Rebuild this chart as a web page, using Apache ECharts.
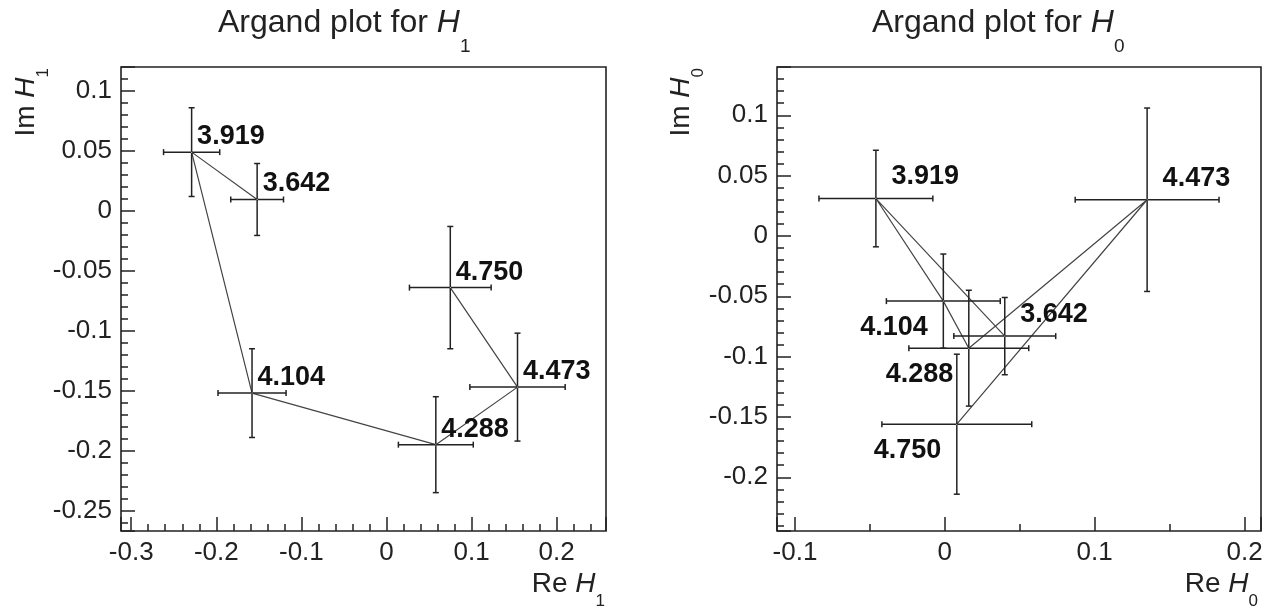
<!DOCTYPE html>
<html>
<head>
<meta charset="utf-8">
<script src="https://cdn.jsdelivr.net/npm/echarts@6.0.0/dist/echarts.min.js"></script>
<style>
html, body { margin: 0; padding: 0; background: #fff; }
#main { width: 1267px; height: 608px; }
</style>
</head>
<body>
<div id="main"></div>
<script>
// point labels (mass), in the order the points are joined
var masses = ['3.642', '3.919', '4.104', '4.288', '4.473', '4.750'];

// H1
var h1Re = [-0.152, -0.229, -0.158, 0.058, 0.154, 0.075];
var h1Im = [0.0095, 0.049, -0.152, -0.195, -0.147, -0.064];
var h1ReErr = [0.031, 0.033, 0.040, 0.044, 0.056, 0.048];
var h1ImErr = [0.030, 0.037, 0.037, 0.040, 0.045, 0.051];

// H0
var h0Re = [0.040, -0.046, -0.001, 0.016, 0.135, 0.008];
var h0Im = [-0.083, 0.031, -0.054, -0.093, 0.030, -0.156];
var h0ReErr = [0.034, 0.038, 0.038, 0.040, 0.048, 0.050];
var h0ImErr = [0.032, 0.040, 0.039, 0.048, 0.076, 0.058];

// labels drawn below-left of the point in the H0 plot
var h0LabelsBelow = ['4.104', '4.288', '4.750'];

var F = '"Liberation Sans", Arial, Helvetica, sans-serif';
var INK = '#222';

var chart = echarts.init(document.getElementById('main'));

function xyPairs(re, im) {
    return re.map(function (v, i) { return [v, im[i]]; });
}
function errRows(re, im, eRe, eIm) {
    return re.map(function (v, i) { return [v, im[i], eRe[i], eIm[i]]; });
}

function renderErr(params, api) {
    var x = api.value(0), y = api.value(1), ex = api.value(2), ey = api.value(3);
    var l = api.coord([x - ex, y]), r = api.coord([x + ex, y]);
    var t = api.coord([x, y + ey]), b = api.coord([x, y - ey]);
    var c = 3;
    var st = { stroke: INK, lineWidth: 1.5 };
    function seg(x1, y1, x2, y2) {
        return { type: 'line', shape: { x1: x1, y1: y1, x2: x2, y2: y2 }, style: st };
    }
    return {
        type: 'group',
        children: [
            seg(l[0], l[1], r[0], r[1]),
            seg(t[0], t[1], b[0], b[1]),
            seg(l[0], l[1] - c, l[0], l[1] + c),
            seg(r[0], r[1] - c, r[0], r[1] + c),
            seg(t[0] - c, t[1], t[0] + c, t[1]),
            seg(b[0] - c, b[1], b[0] + c, b[1])
        ]
    };
}

function axis(idx, min, max, split, minor) {
    return {
        type: 'value', gridIndex: idx, min: min, max: max, splitNumber: split,
        axisLine: { show: false, onZero: false },
        axisTick: { show: true, inside: true, length: 14, lineStyle: { color: INK, width: 1.5 } },
        minorTick: { show: true, splitNumber: minor, length: 7, lineStyle: { color: INK, width: 1.5 } },
        splitLine: { show: false },
        minorSplitLine: { show: false },
        axisLabel: {
            showMinLabel: false, showMaxLabel: false,
            fontFamily: F, fontSize: 26, color: INK, margin: 9
        }
    };
}

function labels(idx, re, im, below) {
    return {
        type: 'scatter', xAxisIndex: idx, yAxisIndex: idx, symbolSize: 1, silent: true, z: 5,
        itemStyle: { color: '#fff', opacity: 1 },
        label: {
            show: true, formatter: '{b}', fontFamily: F, fontWeight: 'bold',
            fontSize: 27, color: '#111', opacity: 1, textBorderWidth: 0, verticalAlign: 'middle'
        },
        data: masses.map(function (m, i) {
            var lab;
            if (!below) lab = { position: [6, -15], align: 'left' };
            else if (below.indexOf(m) >= 0) lab = { position: [-15, 27], align: 'right' };
            else lab = { position: [16, -21], align: 'left' };
            return { name: m, value: [re[i], im[i]], label: lab };
        })
    };
}

function richText(main, sub, subPad) {
    return {
        n: { fontFamily: F, fontSize: main, lineHeight: main + 6, verticalAlign: 'top', fill: INK },
        h: { fontFamily: F, fontSize: main, lineHeight: main + 6, verticalAlign: 'top', fontStyle: 'italic', fill: INK },
        s: { fontFamily: F, fontSize: sub, lineHeight: sub, verticalAlign: 'top', fill: INK, padding: [subPad, 0, 0, 0] }
    };
}

function title(x, sub) {
    return {
        type: 'text', x: x, y: 7,
        style: { text: '{n|Argand plot for }{h|H}{s|' + sub + '}', align: 'left', verticalAlign: 'top', rich: richText(32, 19, 30) }
    };
}
function xName(xRight, sub) {
    return {
        type: 'text', x: xRight, y: 570,
        style: { text: '{n|Re }{h|H}{s|' + sub + '}', align: 'right', verticalAlign: 'top', rich: richText(28, 17, 23) }
    };
}
function yName(xBase, sub) {
    return {
        type: 'text', x: xBase, y: 68, rotation: Math.PI / 2,
        style: { text: '{n|Im }{h|H}{s|' + sub + '}', x: 0, y: -27, align: 'right', verticalAlign: 'top', rich: richText(28, 17, 23) }
    };
}

var option = {
    animation: false,
    backgroundColor: '#fff',
    grid: [
        { left: 121, top: 67, width: 485, height: 464, show: true, borderColor: INK, borderWidth: 1.6, containLabel: false, outerBoundsMode: 'none' },
        { left: 777, top: 67, width: 484, height: 464, show: true, borderColor: INK, borderWidth: 1.6, containLabel: false, outerBoundsMode: 'none' }
    ],
    xAxis: [
        axis(0, -0.312, 0.258, 6, 5),
        axis(1, -0.112, 0.211, 4, 2)
    ],
    yAxis: [
        axis(0, -0.267, 0.12, 8, 5),
        axis(1, -0.2445, 0.14, 8, 5)
    ],
    graphic: [
        title(218, '1'), title(872, '0'),
        xName(605, '1'), xName(1258, '0'),
        yName(39, '1'), yName(694, '0')
    ],
    series: [
        { type: 'line', xAxisIndex: 0, yAxisIndex: 0, data: xyPairs(h1Re, h1Im), symbol: 'none', silent: true, z: 2,
          lineStyle: { color: '#444', width: 1.2 } },
        { type: 'line', xAxisIndex: 1, yAxisIndex: 1, data: xyPairs(h0Re, h0Im), symbol: 'none', silent: true, z: 2,
          lineStyle: { color: '#444', width: 1.2 } },
        { type: 'custom', xAxisIndex: 0, yAxisIndex: 0, renderItem: renderErr, encode: { x: 0, y: 1 }, silent: true, z: 3,
          data: errRows(h1Re, h1Im, h1ReErr, h1ImErr) },
        { type: 'custom', xAxisIndex: 1, yAxisIndex: 1, renderItem: renderErr, encode: { x: 0, y: 1 }, silent: true, z: 3,
          data: errRows(h0Re, h0Im, h0ReErr, h0ImErr) },
        labels(0, h1Re, h1Im, null),
        labels(1, h0Re, h0Im, h0LabelsBelow)
    ]
};
chart.setOption(option);
</script>
</body>
</html>
